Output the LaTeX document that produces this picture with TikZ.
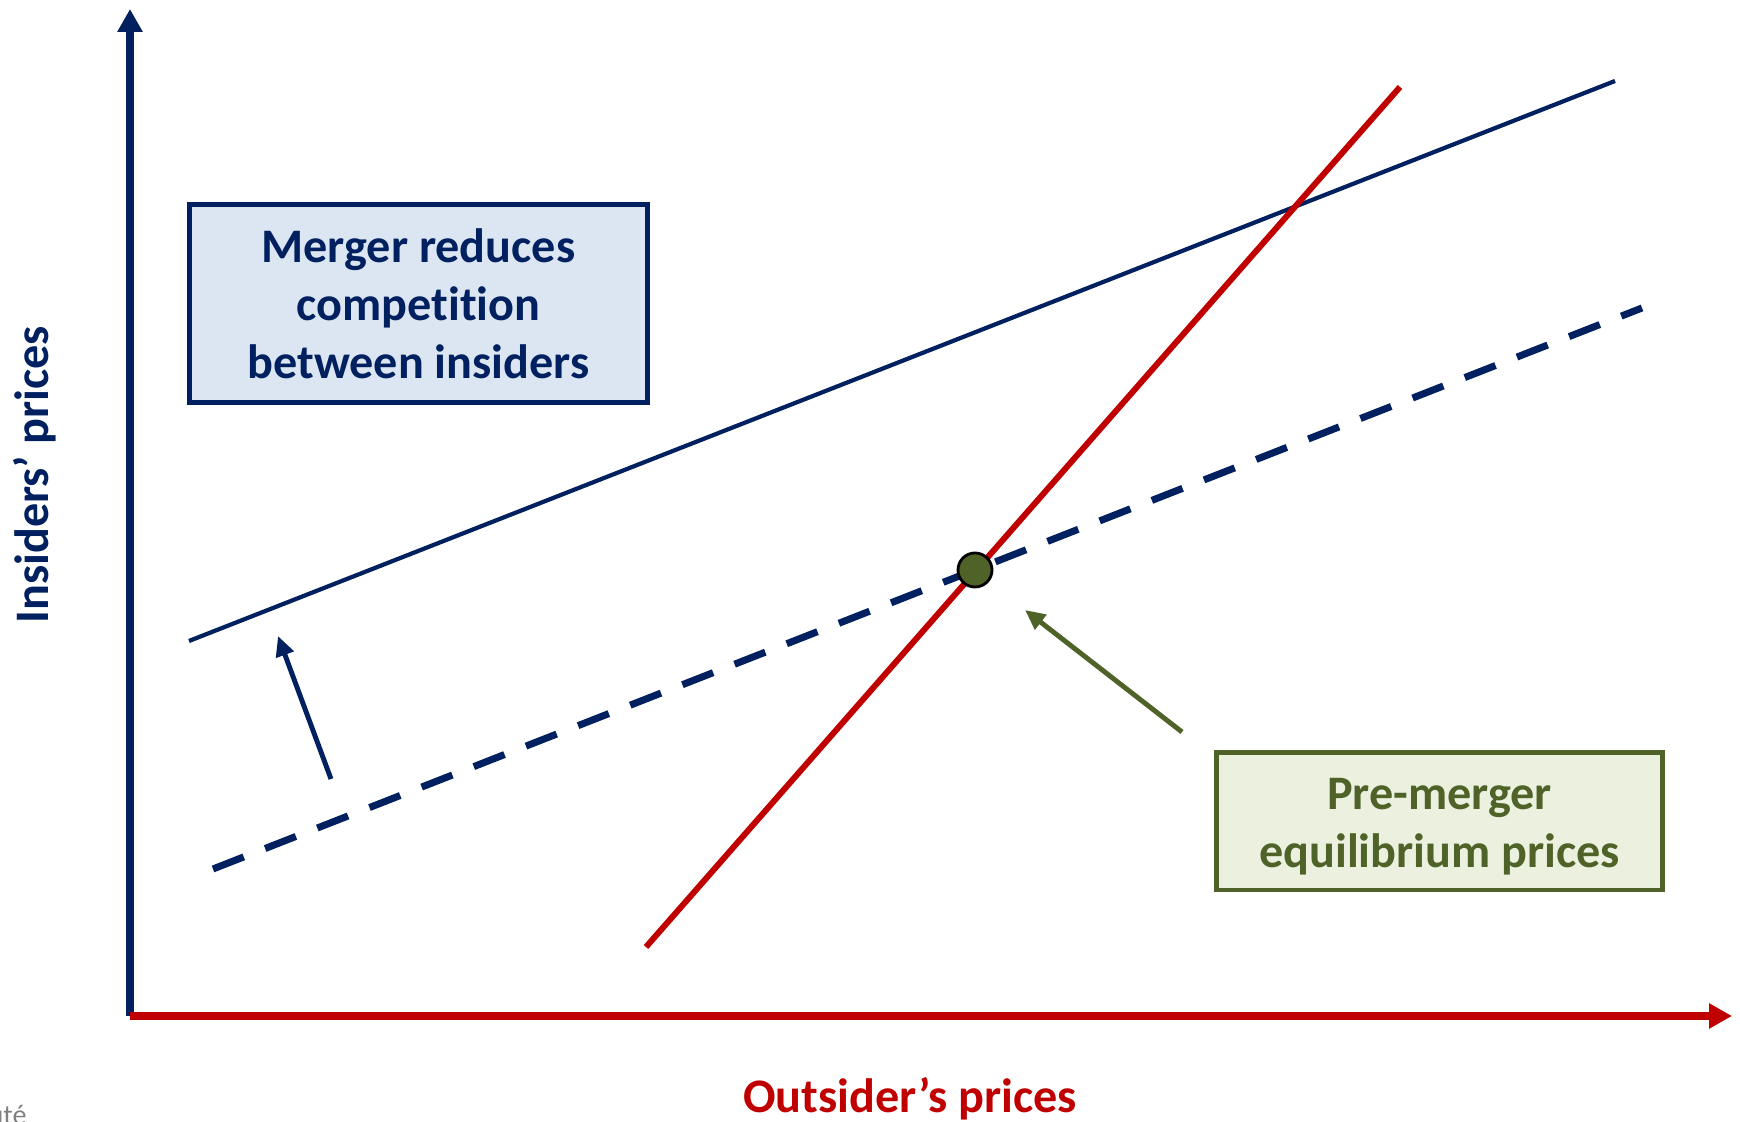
\documentclass[tikz,border=0pt]{standalone}
\usepackage{fontspec}
\setmainfont{Carlito}[Ligatures=NoCommon]
\usetikzlibrary{arrows.meta}

\definecolor{navy}{HTML}{002060}
\definecolor{darkred}{HTML}{C00000}
\definecolor{olive}{HTML}{4F6228}
\definecolor{paleblue}{HTML}{DCE6F2}
\definecolor{palegreen}{HTML}{EBF1DE}

\begin{document}
\begin{tikzpicture}[
  x=0.01cm, y=0.01cm,
  font=\bfseries\fontsize{13.7}{16.5}\selectfont,
  axis/.style={line width=2pt, -{Triangle[length=0.23cm, width=0.24cm]}},
  curve/.style={line width=1.2pt},
  pointer/.style={line width=1.4pt, -{Triangle[length=0.2cm, width=0.18cm]}},
  note/.style={draw, line width=1.4pt, align=center, inner sep=0pt},
  label/.style={font=\bfseries\fontsize{13.7}{16}\selectfont},
]
  \useasboundingbox (0,0) rectangle (1740,1122);

  % axes
  \coordinate (o) at (130,106);
  \coordinate (ytop) at (130,1113);
  \coordinate (xend) at (1732,106);
  \draw[axis, navy] (o) -- (ytop);
  \draw[axis, darkred] (o) -- (xend);

  \node[label, navy, rotate=90] (ylab) at (35,647) {Insiders’ prices};
  \node[label, darkred] (xlab) at (910,23) {Outsider’s prices};

  % reaction functions
  \coordinate (post1) at (189,481);
  \coordinate (post2) at (1615,1041);
  \coordinate (pre1) at (213,253);
  \coordinate (pre2) at (1642,814);
  \coordinate (out1) at (646,175);
  \coordinate (out2) at (1400,1035);

  \draw[curve, navy] (post1) -- (post2);
  \draw[curve, navy, line width=2pt, dash pattern=on 0.33cm off 0.23cm]
    (pre1) -- (pre2);
  \draw[curve, darkred, line width=1.7pt] (out1) -- (out2);

  \node[circle, draw=black, line width=0.8pt, fill=olive,
        minimum size=0.34cm, inner sep=0pt] (eq) at (975,552) {};

  % boxes
  \node[note, draw=navy, fill=paleblue, text=navy,
        minimum width=4.57cm, minimum height=1.97cm] (merger) at (418.5,818.5)
    {Merger reduces\\competition\\between insiders};
  \node[note, draw=olive, fill=palegreen, text=olive,
        minimum width=4.45cm, minimum height=1.37cm] (premerger) at (1439.5,300.5)
    {\raisebox{-0.055cm}[\height][\depth]{\begin{tabular}{@{}c@{}}
       Pre-merger\\equilibrium prices\end{tabular}}};

  % pointers
  \coordinate (shift0) at (331,343);
  \coordinate (shift1) at (278,486);
  \draw[pointer, navy] (shift0) -- (shift1);
  \coordinate (eqtail) at (1182,390);
  \coordinate (eqtip) at (1025,512);
  \draw[pointer, olive] (eqtail) -- (eqtip);

  % cut-off logo in the corner
  \node[anchor=base west, text=gray, font=\fontsize{8}{8}\selectfont,
        inner sep=0pt] (logo) at (-12,-3) {uté};
\end{tikzpicture}
\end{document}
